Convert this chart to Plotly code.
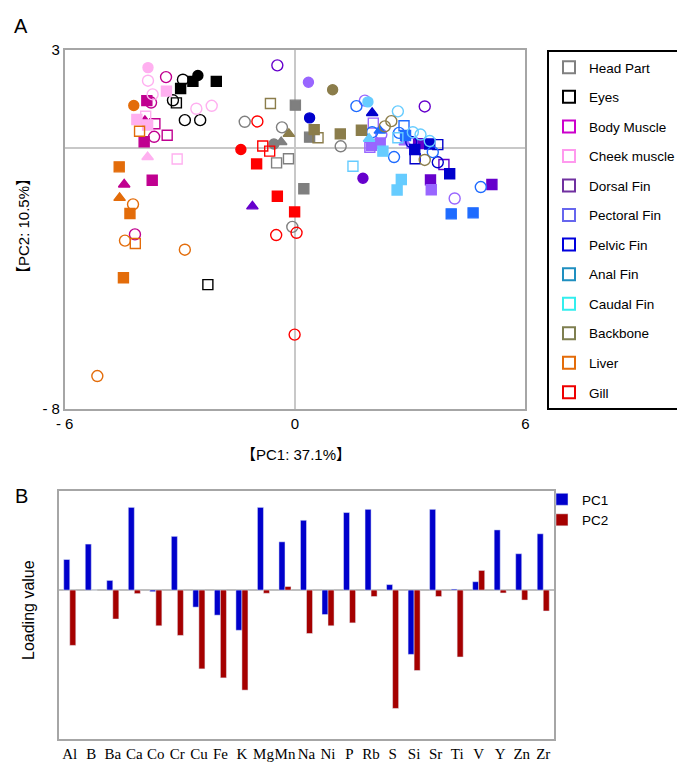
import plotly.graph_objects as go

W, H = 685, 767

# ---------------- Panel A data (PC scores) ----------------
tissues = ["Head Part", "Eyes", "Body Muscle", "Cheek muscle", "Dorsal Fin", "Pectoral Fin",
           "Pelvic Fin", "Anal Fin", "Caudal Fin", "Backbone", "Liver", "Gill"]
legend_colors = ["#808080", "#000000", "#CC00CC", "#FF99EE", "#7030A0", "#6666EE",
                 "#0000DD", "#1F8FC0", "#33EEEE", "#7F7F50", "#E46C0A", "#EE0000"]
point_colors = ["#7F7F7F", "#000000", "#C00090", "#FFB0F0", "#6600CC", "#9966FF",
                "#0000CC", "#1E6BFF", "#66CCFF", "#8B7D4B", "#E36C0A", "#FF0000"]

head_x = [-1.31, -0.34, 1.19, -0.07, -0.55, -0.36, 0.01, 0.38, 0.23, -0.48, -0.17]
head_y = [0.80, 0.63, 0.05, -2.42, 0.12, 0.18, 1.31, 0.33, -1.25, -0.46, -0.33]
head_s = ["co", "co", "co", "co", "c", "t", "s", "s", "s", "so", "so"]

eyes_x = [-2.92, -2.53, -2.66, -2.05, -2.98, -3.18, -3.09, -2.87, -2.47, -2.27]
eyes_y = [2.09, 2.22, 2.04, 2.04, 1.82, 1.46, 1.38, 0.85, 0.85, -4.19]
eyes_s = ["co", "c", "s", "s", "s", "co", "so", "co", "co", "so"]

body_x = [-3.36, -3.86, -3.75, -3.91, -3.65, -3.93, -3.67, -3.33, -3.72, -4.45, -4.17]
body_y = [2.17, 1.45, 1.39, 0.83, 0.74, 0.19, 0.34, 0.39, -0.99, -1.12, -2.65]
body_s = ["co", "s", "co", "t", "so", "s", "co", "so", "s", "t", "co"]

cheek_x = [-3.83, -3.83, -3.35, -3.71, -2.57, -2.17, -4.12, -3.84, -3.89, -3.84, -3.07]
cheek_y = [2.46, 2.06, 1.74, 1.64, 1.20, 1.29, 0.87, 0.70, 0.97, -0.28, -0.34]
cheek_s = ["c", "co", "s", "co", "co", "co", "s", "s", "so", "t", "so"]

dorsal_x = [-0.46, 3.38, 1.77, -1.11, 3.22, 3.53, 5.13, 3.88]
dorsal_y = [2.53, 1.27, -0.93, -1.79, 0.13, -0.98, -1.12, -0.51]
dorsal_s = ["co", "co", "c", "t", "s", "s", "s", "so"]

pect_x = [0.35, 1.82, 2.04, 2.25, 1.99, 2.22, 1.95, 2.86, 3.55, 4.16, 3.05]
pect_y = [2.01, 1.45, 0.76, 0.41, 0.08, 0.15, 0.02, 0.17, -1.28, -1.55, 0.15]
pect_s = ["c", "co", "so", "co", "s", "s", "so", "t", "s", "co", "so"]

pelvic_x = [0.38, 2.01, 3.51, 3.12, 3.13, 4.03, 3.72, 3.72, 3.03]
pelvic_y = [0.92, 1.07, 0.12, -0.05, -0.33, -0.79, -0.44, 0.10, 0.18]
pelvic_s = ["c", "t", "s", "s", "so", "s", "co", "so", "co"]

anal_x = [1.60, 2.01, 2.21, 2.84, 2.71, 2.88, 2.58, 3.59, 4.84, 4.07, 4.64]
anal_y = [1.28, 0.48, 0.53, 0.68, 0.46, 0.38, -0.28, -0.13, -1.20, -2.02, -1.99]
anal_s = ["co", "co", "t", "so", "co", "s", "co", "co", "co", "s", "s"]

caudal_x = [1.90, 2.68, 3.07, 3.27, 3.51, 1.93, 2.29, 1.51, 2.77, 2.66, 2.68]
caudal_y = [1.41, 1.12, 0.48, 0.41, 0.21, 0.28, -0.10, -0.56, -0.97, -1.29, 0.31]
caudal_s = ["c", "co", "co", "co", "co", "t", "s", "so", "s", "s", "so"]

back_x = [0.98, -0.64, -0.16, 0.50, 0.60, 1.18, 1.73, 2.51, 2.34, 3.38]
back_y = [1.78, 1.36, 0.43, 0.56, 0.31, 0.43, 0.54, 0.82, 0.66, -0.37]
back_s = ["c", "so", "t", "s", "so", "s", "s", "co", "co", "co"]

liver_x = [-4.20, -4.05, -4.58, -4.57, -4.22, -4.30, -4.43, -4.16, -2.87, -4.47, -5.15]
liver_y = [1.30, 0.51, -0.58, -1.53, -1.73, -2.01, -2.84, -2.93, -3.12, -3.98, -6.99]
liver_s = ["c", "so", "s", "t", "co", "s", "co", "so", "co", "s", "co"]

gill_x = [-0.98, -1.41, -0.84, -0.66, -1.00, -0.46, -0.01, -0.49, 0.04, -0.01]
gill_y = [0.81, -0.05, 0.06, -0.10, -0.49, -1.48, -1.96, -2.67, -2.60, -5.72]
gill_s = ["co", "c", "so", "so", "s", "s", "s", "co", "co", "co"]

groups = [(head_x, head_y, head_s), (eyes_x, eyes_y, eyes_s), (body_x, body_y, body_s),
          (cheek_x, cheek_y, cheek_s), (dorsal_x, dorsal_y, dorsal_s), (pect_x, pect_y, pect_s),
          (pelvic_x, pelvic_y, pelvic_s), (anal_x, anal_y, anal_s), (caudal_x, caudal_y, caudal_s),
          (back_x, back_y, back_s), (liver_x, liver_y, liver_s), (gill_x, gill_y, gill_s)]

# ---------------- Panel B data (loadings) ----------------
elements = ["Al", "B", "Ba", "Ca", "Co", "Cr", "Cu", "Fe", "K", "Mg", "Mn", "Na",
            "Ni", "P", "Rb", "S", "Si", "Sr", "Ti", "V", "Y", "Zn", "Zr"]
pc1 = [0.095, 0.143, 0.030, 0.257, -0.005, 0.167, -0.053, -0.078, -0.125, 0.257, 0.150, 0.217,
       -0.076, 0.241, 0.251, 0.017, -0.200, 0.251, 0.003, 0.026, 0.187, 0.113, 0.175]
pc2 = [-0.172, 0.0, -0.090, -0.011, -0.111, -0.141, -0.245, -0.273, -0.311, -0.010, 0.011, -0.135,
       -0.111, -0.102, -0.020, -0.368, -0.250, -0.020, -0.208, 0.061, -0.009, -0.031, -0.065]

sym_map = {"c": "circle", "co": "circle-open", "s": "square", "so": "square-open",
           "t": "triangle-up"}
size_map = {"c": 10, "co": 11, "s": 10, "so": 10, "t": 10}

FONT = "Liberation Sans, Arial, Noto Sans CJK SC, sans-serif"

fig = go.Figure()

# scatter points
for (gx, gy, gs), col in zip(groups, point_colors):
    fig.add_trace(go.Scatter(
        x=gx, y=gy, mode="markers", showlegend=False, xaxis="x", yaxis="y",
        marker=dict(symbol=[sym_map[s] for s in gs], size=[size_map[s] for s in gs],
                    color=col, opacity=1, line=dict(color=col, width=1.4)),
        hoverinfo="skip"))

# legend entries for tissues
for name, col in zip(tissues, legend_colors):
    fig.add_trace(go.Scatter(
        x=[None], y=[None], mode="markers", name=name, legendgroup=name, legend="legend",
        marker=dict(symbol="square-open", size=14, color=col, opacity=1,
                    line=dict(color=col, width=2.2))))

# bars
fig.add_trace(go.Bar(x=elements, y=pc1, name="PC1", marker_color="#0000CC",
                     xaxis="x2", yaxis="y2", legend="legend2"))
fig.add_trace(go.Bar(x=elements, y=pc2, name="PC2", marker_color="#A50000",
                     xaxis="x2", yaxis="y2", legend="legend2"))

ax_line = "#A6A6A6"


def label(text, px, py, size, angle=0, family=FONT):
    return dict(text=text, x=px / W, y=1 - py / H, xref="paper", yref="paper",
                xanchor="center", yanchor="middle", showarrow=False, textangle=angle,
                font=dict(size=size, family=family, color="black"))


fig.update_layout(
    width=W, height=H, margin=dict(l=0, r=0, t=0, b=0, autoexpand=False),
    paper_bgcolor="white", plot_bgcolor="white",
    font=dict(family=FONT, color="black"),
    barmode="group", bargap=0.44, bargroupgap=0,
    xaxis=dict(domain=[56.7 / W, 517.3 / W], range=[-6, 6], anchor="y",
               showgrid=False, zeroline=True, zerolinecolor="#C8C8C8", zerolinewidth=1.5,
               showline=True, mirror=True, linecolor=ax_line, linewidth=1.5,
               tickvals=[-6, 0, 6], ticktext=["- 6", "0", "6"], ticks="",
               tickfont=dict(size=15, family=FONT)),
    yaxis=dict(domain=[1 - 401 / H, 1 - 42 / H], range=[-8, 3], anchor="x",
               showgrid=False, zeroline=True, zerolinecolor="#C8C8C8", zerolinewidth=1.5,
               showline=True, mirror=True, linecolor=ax_line, linewidth=1.5,
               tickvals=[3, -8], ticktext=["3", "- 8"], ticks="",
               tickfont=dict(size=15, family=FONT)),
    xaxis2=dict(domain=[51 / W, 546 / W], anchor="y2", showgrid=False, tickangle=0,
                showline=True, mirror=True, linecolor=ax_line, linewidth=1.5, ticks="",
                tickfont=dict(size=15, family="Liberation Serif, Times New Roman, serif")),
    yaxis2=dict(domain=[1 - 731 / H, 1 - 483 / H], anchor="x2", range=[-0.463, 0.308],
                showgrid=False, showticklabels=False, ticks="",
                zeroline=True, zerolinecolor="#BFBFBF", zerolinewidth=1.5,
                showline=True, mirror=True, linecolor=ax_line, linewidth=1.5),
    legend=dict(x=539 / W, y=1 - 42 / H, xanchor="left", yanchor="top",
                bordercolor="black", borderwidth=2, bgcolor="white",
                traceorder="grouped", tracegroupgap=9, itemsizing="constant", itemwidth=30,
                font=dict(size=13.5, family=FONT)),
    legend2=dict(x=534 / W, y=1 - 476 / H, xanchor="left", yanchor="top",
                 bgcolor="rgba(0,0,0,0)", borderwidth=0, traceorder="normal", itemwidth=30,
                 font=dict(size=13.5, family=FONT)),
    annotations=[
        label("A", 13, 18, 20),
        label("B", 13, 488, 20),
        label("【PC1: 37.1%】", 288, 446, 15),
        label("【PC2: 10.5%】", 15, 218, 15, angle=-90),
        label("Loading value", 20, 602, 16, angle=-90),
    ],
)

fig.write_html("out.html")
